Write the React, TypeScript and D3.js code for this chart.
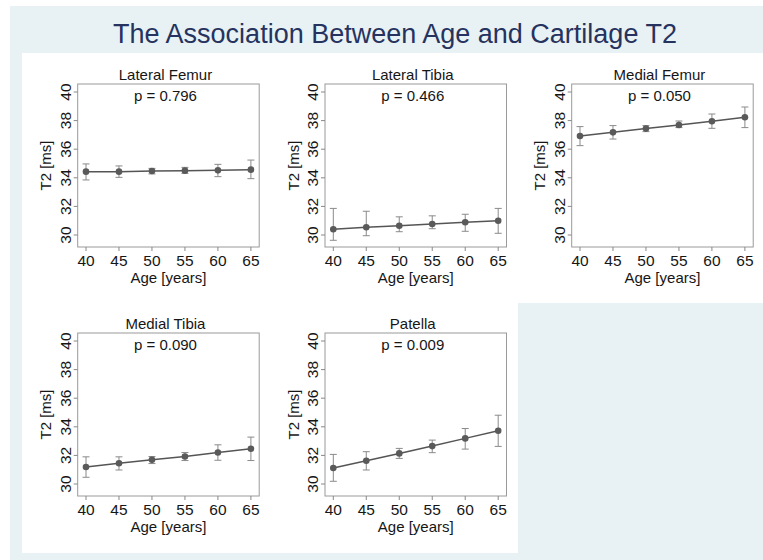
import React from "react";
import * as d3 from "d3";

const ages = [40, 45, 50, 55, 60, 65];
const yTicks = [30, 32, 34, 36, 38, 40];
const regions = ["Lateral Femur", "Lateral Tibia", "Medial Femur", "Medial Tibia", "Patella"];
const pValues = ["0.796", "0.466", "0.050", "0.090", "0.009"];

const lateralFemurMean = [34.43, 34.43, 34.48, 34.5, 34.52, 34.57];
const lateralFemurLow = [33.85, 34.03, 34.27, 34.31, 34.08, 33.94];
const lateralFemurHigh = [34.97, 34.83, 34.66, 34.73, 34.94, 35.24];

const lateralTibiaMean = [30.4, 30.54, 30.65, 30.77, 30.89, 31.0];
const lateralTibiaLow = [29.63, 29.95, 30.23, 30.44, 30.26, 30.12];
const lateralTibiaHigh = [31.86, 31.66, 31.27, 31.34, 31.45, 31.86];

const medialFemurMean = [36.92, 37.18, 37.44, 37.69, 37.95, 38.23];
const medialFemurLow = [36.25, 36.71, 37.23, 37.51, 37.46, 37.51];
const medialFemurHigh = [37.58, 37.65, 37.65, 37.97, 38.46, 38.95];

const medialTibiaMean = [31.19, 31.45, 31.69, 31.92, 32.2, 32.46];
const medialTibiaLow = [30.47, 30.98, 31.43, 31.64, 31.66, 31.64];
const medialTibiaHigh = [31.9, 31.9, 31.92, 32.2, 32.74, 33.28];

const patellaMean = [31.12, 31.63, 32.14, 32.65, 33.19, 33.72];
const patellaLow = [30.19, 30.98, 31.79, 32.19, 32.44, 32.63];
const patellaHigh = [32.07, 32.26, 32.49, 33.07, 33.88, 34.81];

const means = [lateralFemurMean, lateralTibiaMean, medialFemurMean, medialTibiaMean, patellaMean];
const lows = [lateralFemurLow, lateralTibiaLow, medialFemurLow, medialTibiaLow, patellaLow];
const highs = [lateralFemurHigh, lateralTibiaHigh, medialFemurHigh, medialTibiaHigh, patellaHigh];

const W = 763;
const H = 560;
const plotW = 181.5;
const plotH = 163;
const lefts = [77.7, 325, 571.7];
const tops = [84, 333];
const font = "'Liberation Sans', Arial, Helvetica, sans-serif";
const blue = "#e8f2f5";
const ink = "#161616";

function Panel({ i }: { i: number }) {
  const x0 = lefts[i % 3];
  const y0 = tops[Math.floor(i / 3)];
  const x = d3.scaleLinear().domain([40, 65]).range([8.3, plotW - 8.3]);
  const y = d3.scaleLinear().domain([30, 40]).range([plotH - 12, 8]);
  const line = d3
    .line<number>()
    .x((_, k) => x(ages[k]))
    .y((d) => y(d));
  const mean = means[i];
  return (
    <g transform={`translate(${x0},${y0})`} fontFamily={font}>
      <text x={plotW / 2 - 3} y={-4} textAnchor="middle" fontSize={15} fill={ink}>
        {regions[i]}
      </text>
      <rect x={0} y={0} width={plotW} height={plotH} fill="white" stroke="#9a9a9a" strokeWidth={1} />
      <text x={plotW / 2 - 3} y={17} textAnchor="middle" fontSize={15} fill={ink}>
        p = {pValues[i]}
      </text>
      {yTicks.map((t) => (
        <g key={t}>
          <line x1={-4} x2={0} y1={y(t)} y2={y(t)} stroke="#888" />
          <text
            transform={`translate(-7,${y(t)}) rotate(-90)`}
            textAnchor="middle"
            fontSize={15.5}
            fill={ink}
          >
            {t}
          </text>
        </g>
      ))}
      {ages.map((a) => (
        <g key={a}>
          <line x1={x(a)} x2={x(a)} y1={plotH} y2={plotH + 4} stroke="#888" />
          <text x={x(a)} y={plotH + 19} textAnchor="middle" fontSize={15.5} fill={ink}>
            {a}
          </text>
        </g>
      ))}
      <text x={plotW / 2} y={plotH + 35.5} textAnchor="middle" fontSize={15} fill={ink}>
        Age [years]
      </text>
      <text
        transform={`translate(-26.5,${plotH / 2}) rotate(-90)`}
        textAnchor="middle"
        fontSize={15}
        fill={ink}
      >
        T2 [ms]
      </text>
      {ages.map((a, k) => (
        <g key={a} stroke="#8a8a8a" strokeWidth={1}>
          <line x1={x(a)} x2={x(a)} y1={y(lows[i][k])} y2={y(highs[i][k])} />
          <line x1={x(a) - 3.5} x2={x(a) + 3.5} y1={y(lows[i][k])} y2={y(lows[i][k])} />
          <line x1={x(a) - 3.5} x2={x(a) + 3.5} y1={y(highs[i][k])} y2={y(highs[i][k])} />
        </g>
      ))}
      <path d={line(mean) ?? ""} fill="none" stroke="#555" strokeWidth={1.5} />
      {ages.map((a, k) => (
        <circle key={a} cx={x(a)} cy={y(mean[k])} r={3.3} fill="#5a5a5a" />
      ))}
    </g>
  );
}

export default function App() {
  return (
    <svg
      width={W}
      height={H}
      style={{ position: "absolute", left: 0, top: 0 }}
      viewBox={`0 0 ${W} ${H}`}
    >
      <rect x={0} y={0} width={W} height={H} fill="white" />
      <rect x={10} y={6} width={W - 10} height={H - 6} fill={blue} />
      <rect x={22} y={53} width={W - 22} height={250} fill="white" />
      <rect x={22} y={303} width={496} height={250} fill="white" />
      <text
        x={395}
        y={42.5}
        textAnchor="middle"
        fontFamily={font}
        fontSize={27}
        fill="#26335e"
      >
        The Association Between Age and Cartilage T2
      </text>
      {regions.map((_, i) => (
        <Panel key={i} i={i} />
      ))}
    </svg>
  );
}
